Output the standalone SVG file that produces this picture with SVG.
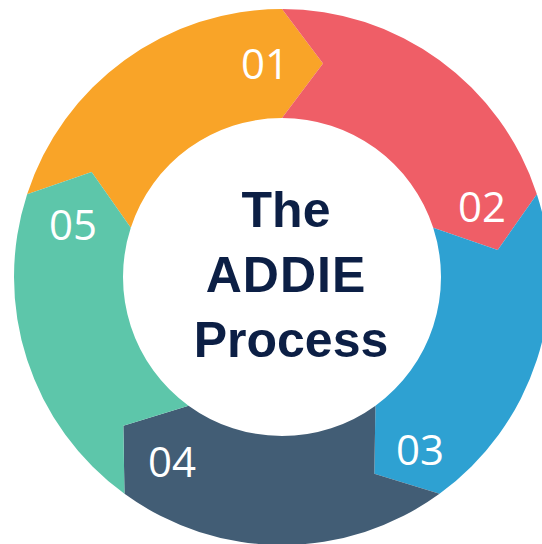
<svg xmlns="http://www.w3.org/2000/svg" width="542" height="544" viewBox="0 0 542 544">
  <style>
    .num { font-family: "Open Sans", "Noto Sans", sans-serif; font-size: 42px; fill: #ffffff; text-anchor: middle; }
    .title { font-family: "Liberation Sans", Arial, sans-serif; font-weight: bold; font-size: 50px; fill: #0c1f45; text-anchor: middle; }
  </style>
  <rect width="542" height="544" fill="#ffffff"/>
  <!-- ring centre (282,277), outer r 268, inner r 159; each segment spans 72 degrees -->
  <g id="step-01">
    <path d="M27.12,194.18 A268,268 0 0 1 282,9 L323,63.5 L282,118 A159,159 0 0 0 130.78,227.87 L91.62,172.03 Z" fill="#f9a428"/>
    <text class="num" x="265" y="79">01</text>
  </g>
  <g id="step-02">
    <path d="M282,9 A268,268 0 0 1 536.88,194.18 L497.72,250.01 L433.22,227.87 A159,159 0 0 0 282,118 L323,63.5 Z" fill="#ef5e67"/>
    <text class="num" x="482" y="222">02</text>
  </g>
  <g id="step-03">
    <path d="M536.88,194.18 A268,268 0 0 1 439.53,493.82 L374.32,473.83 L375.46,405.63 A159,159 0 0 0 433.22,227.87 L497.72,250.01 Z" fill="#2ea1d2"/>
    <text class="num" x="420" y="465">03</text>
  </g>
  <g id="step-04">
    <path d="M439.53,493.82 A268,268 0 0 1 124.47,493.82 L123.34,425.63 L188.54,405.63 A159,159 0 0 0 375.46,405.63 L374.32,473.83 Z" fill="#425d75"/>
    <text class="num" x="172" y="477">04</text>
  </g>
  <g id="step-05">
    <path d="M124.47,493.82 A268,268 0 0 1 27.12,194.18 L91.62,172.03 L130.78,227.87 A159,159 0 0 0 188.54,405.63 L123.34,425.63 Z" fill="#5dc6aa"/>
    <text class="num" x="73" y="240">05</text>
  </g>
  <g id="title">
    <text class="title" x="286" y="227" font-size="52">The</text>
    <text class="title" x="286" y="292" font-size="52" letter-spacing="1">ADDIE</text>
    <text class="title" x="291" y="357">Process</text>
  </g>
</svg>
